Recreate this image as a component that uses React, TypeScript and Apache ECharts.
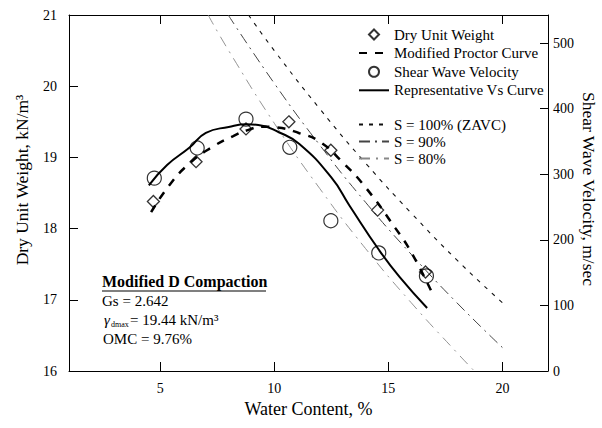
import React, { useEffect, useRef } from "react";
import * as echarts from "echarts";

const FONT = "'Liberation Serif', 'Times New Roman', serif";

// x ticks (water content, %)
const xTicks = [5, 10, 15, 20];

// Dry unit weight points (kN/m3)
const dryW = [4.7, 6.57, 8.76, 10.64, 12.48, 14.53, 16.63];
const dryG = [18.38, 18.94, 19.4, 19.5, 19.1, 18.26, 17.39];

// Shear wave velocity points (m/sec)
const vsPtW = [4.74, 6.62, 8.76, 10.68, 12.48, 14.58, 16.67];
const vsPtV = [294, 340, 384, 341, 229, 180, 145];

// Modified Proctor curve
const proctorW = [4.6, 5.4, 6.3, 7.3, 8.2, 8.8, 9.5, 10.1, 11.1, 12.0, 13.0, 14.0, 15.3, 16.0, 16.9];
const proctorG = [18.23, 18.61, 18.92, 19.15, 19.3, 19.38, 19.43, 19.42, 19.34, 19.22, 18.93, 18.58, 18.01, 17.67, 17.11];

// Representative Vs curve
const vsW = [4.5, 5.3, 6.3, 7.0, 8.0, 8.8, 9.3, 10.2, 11.1, 12.5, 13.3, 14.6, 15.5, 16.7];
const vsV = [283, 314, 341, 363, 372, 376, 375, 364, 346, 295, 252, 184, 143, 96];

// Saturation lines
const zavcW = [8.87, 10, 12, 14, 16, 18, 20];
const zavcG = [21.0, 20.5, 19.68, 18.92, 18.22, 17.56, 16.96];
const s90W = [7.98, 10, 12, 14, 16, 18, 20];
const s90G = [21.0, 20.04, 19.17, 18.37, 17.64, 16.96, 16.33];
const s80W = [7.1, 8, 10, 12, 14, 16, 18, 18.77];
const s80G = [21.0, 20.5, 19.48, 18.56, 17.72, 16.96, 16.26, 16.0];

const zip = (a: number[], b: number[]) => a.map((v, i) => [v, b[i]]);

export default function App() {
  const ref = useRef<HTMLDivElement>(null);
  useEffect(() => {
    if (!ref.current) return;
    const chart = echarts.init(ref.current, undefined, { renderer: "svg" });
    const axisLine = { show: true, lineStyle: { color: "#000", width: 1 } };
    const label = { color: "#000", fontFamily: FONT, fontSize: 14 };
    const noSym = { opacity: 0, color: "transparent", borderWidth: 0 };
    const legendText = { color: "#000", fontFamily: FONT, fontSize: 15 };
    chart.setOption({
      animation: false,
      backgroundColor: "#fff",
      grid: { left: 69, right: 54, top: 15, bottom: 57, containLabel: false, outerBoundsMode: "none" },
      legend: [
        {
          orient: "vertical",
          left: 358,
          top: 27,
          padding: 0,
          itemWidth: 30,
          itemHeight: 10,
          itemGap: 3.6,
          symbolKeepAspect: true,
          textStyle: legendText,
          data: [
            { name: "Dry Unit Weight", icon: "path://M5,0L10,5L5,10L0,5Z" },
            { name: "Modified Proctor Curve", itemStyle: noSym },
            { name: "Shear Wave Velocity" },
            { name: "Representative Vs Curve", itemStyle: noSym },
          ],
        },
        {
          orient: "vertical",
          left: 358,
          top: 117,
          padding: 0,
          itemWidth: 30,
          itemHeight: 10,
          itemGap: 2,
          textStyle: legendText,
          data: [
            { name: "S = 100% (ZAVC)", itemStyle: noSym },
            { name: "S = 90%", itemStyle: noSym },
            { name: "S = 80%", itemStyle: noSym },
          ],
        },
      ],
      xAxis: [
        {
          type: "value",
          position: "bottom",
          min: 1,
          max: 22,
          axisLine,
          axisTick: { show: true, inside: true, length: 9, customValues: xTicks, lineStyle: { color: "#000" } },
          axisLabel: { ...label, margin: 10, customValues: xTicks },
          splitLine: { show: false },
          name: "Water Content, %",
          nameLocation: "middle",
          nameGap: 28,
          nameTextStyle: { color: "#000", fontFamily: FONT, fontSize: 18 },
        },
        {
          type: "value",
          position: "top",
          min: 1,
          max: 22,
          axisLine,
          axisTick: { show: true, inside: true, length: 9, customValues: xTicks, lineStyle: { color: "#000" } },
          axisLabel: { show: false },
          splitLine: { show: false },
        },
      ],
      yAxis: [
        {
          type: "value",
          position: "left",
          min: 16,
          max: 21,
          interval: 1,
          axisLine,
          axisTick: { show: true, inside: true, length: 9, lineStyle: { color: "#000" } },
          axisLabel: { ...label, margin: 12 },
          splitLine: { show: false },
          name: "Dry Unit Weight, kN/m³",
          nameLocation: "middle",
          nameRotate: 90,
          nameGap: 38,
          nameTextStyle: { color: "#000", fontFamily: FONT, fontSize: 17.5, padding: [0, 0, 0, 26] },
        },
        {
          type: "value",
          position: "right",
          min: 0,
          max: 542.7,
          interval: 100,
          axisLine,
          axisTick: { show: true, inside: true, length: 8, lineStyle: { color: "#000" } },
          axisLabel: {
            ...label,
            margin: 5,
            showMaxLabel: false,
            formatter: (v: number) => (Math.abs(v % 100) < 1e-6 ? String(v) : ""),
          },
          splitLine: { show: false },
          name: "Shear Wave Velocity, m/sec",
          nameLocation: "middle",
          nameRotate: -90,
          nameGap: 32,
          nameMoveOverlap: false,
          nameTextStyle: { color: "#000", fontFamily: FONT, fontSize: 17.5, padding: [0, 8, 0, 0] },
        },
      ],
      series: [
        {
          name: "S = 100% (ZAVC)",
          type: "line",
          yAxisIndex: 0,
          smooth: true,
          symbol: "none",
          data: zip(zavcW, zavcG),
          lineStyle: { color: "#111", width: 1.1, type: [4, 6] },
          z: 1,
        },
        {
          name: "S = 90%",
          type: "line",
          yAxisIndex: 0,
          smooth: true,
          symbol: "none",
          data: zip(s90W, s90G),
          lineStyle: { color: "#444", width: 1, type: [11, 5, 2, 5] },
          z: 1,
        },
        {
          name: "S = 80%",
          type: "line",
          yAxisIndex: 0,
          smooth: true,
          symbol: "none",
          data: zip(s80W, s80G),
          lineStyle: { color: "#888", width: 0.9, type: [11, 6, 2, 6] },
          z: 1,
        },
        {
          name: "Modified Proctor Curve",
          type: "line",
          yAxisIndex: 0,
          smooth: true,
          symbol: "none",
          data: zip(proctorW, proctorG),
          lineStyle: { color: "#000", width: 2.5, type: [8, 8] },
          z: 2,
        },
        {
          name: "Representative Vs Curve",
          type: "line",
          yAxisIndex: 1,
          smooth: true,
          symbol: "none",
          data: zip(vsW, vsV),
          lineStyle: { color: "#000", width: 2 },
          z: 2,
        },
        {
          name: "Dry Unit Weight",
          type: "scatter",
          yAxisIndex: 0,
          symbol: "diamond",
          symbolSize: 12,
          data: zip(dryW, dryG),
          itemStyle: { color: "rgba(255,255,255,0)", borderColor: "#000", borderWidth: 1.3 },
          z: 3,
        },
        {
          name: "Shear Wave Velocity",
          type: "scatter",
          yAxisIndex: 1,
          symbol: "circle",
          symbolSize: 14,
          data: zip(vsPtW, vsPtV),
          itemStyle: { color: "rgba(255,255,255,0)", borderColor: "#000", borderWidth: 1.2 },
          z: 3,
        },
      ],
      graphic: [
        {
          type: "text",
          left: 102,
          top: 273,
          style: { text: "Modified D Compaction", fill: "#000", font: `bold 16px ${FONT}` },
        },
        {
          type: "line",
          shape: { x1: 102, y1: 291, x2: 266, y2: 291 },
          style: { stroke: "#000", lineWidth: 1.2 },
        },
        {
          type: "text",
          left: 102,
          top: 293,
          style: { text: "Gs = 2.642", fill: "#000", font: `15px ${FONT}` },
        },
        {
          type: "text",
          left: 104,
          top: 312,
          style: { text: "γ", fill: "#000", font: `italic 15px ${FONT}` },
        },
        {
          type: "text",
          left: 111,
          top: 320,
          style: { text: "dmax", fill: "#000", font: `8px ${FONT}` },
        },
        {
          type: "text",
          left: 130,
          top: 312,
          style: { text: "= 19.44 kN/m³", fill: "#000", font: `15px ${FONT}` },
        },
        {
          type: "text",
          left: 103,
          top: 331,
          style: { text: "OMC = 9.76%", fill: "#000", font: `15px ${FONT}` },
        },
      ],
    });
    return () => chart.dispose();
  }, []);
  return (
    <div
      ref={ref}
      style={{ position: "fixed", left: 0, top: 0, width: 602, height: 428, background: "#fff" }}
    />
  );
}
